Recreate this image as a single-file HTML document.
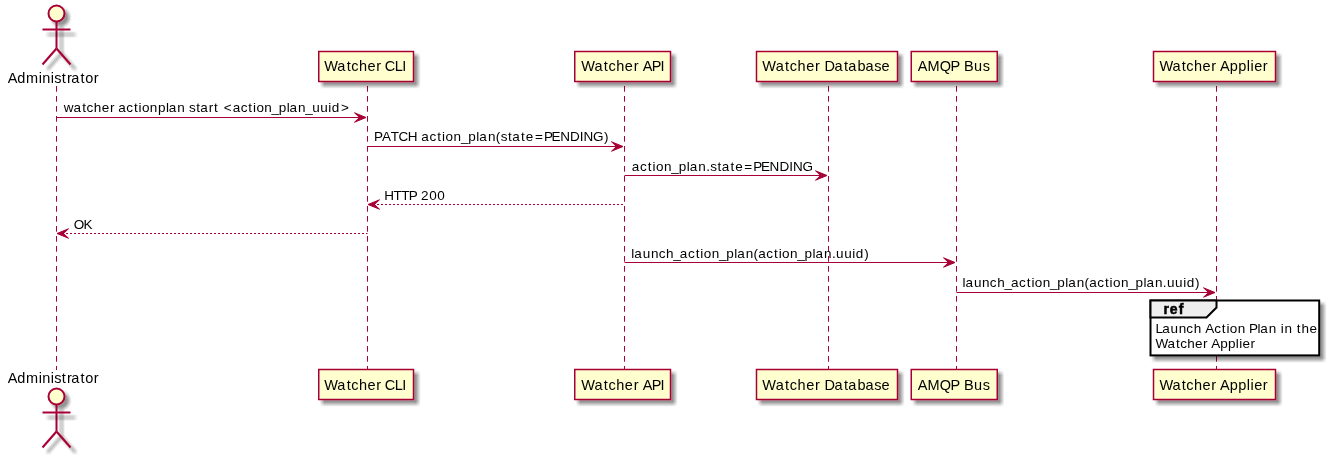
<!DOCTYPE html>
<html><head><meta charset="utf-8">
<style>
html,body{margin:0;padding:0;background:#fff;}
body{width:1330px;height:456px;overflow:hidden;}
svg{display:block;will-change:transform;}
text{font-family:"Liberation Sans",sans-serif;fill:#000;}
.pt{font-size:14.5px;}
.mt{font-size:13.5px;}
.ll{stroke:#A80036;stroke-width:1;stroke-dasharray:5.7,4.3;fill:none;}
.box{fill:#FEFECE;stroke:#A80036;stroke-width:1.5;}
.ms{stroke:#A80036;stroke-width:1;fill:none;}
.md{stroke:#A80036;stroke-width:1;fill:none;stroke-dasharray:2,2;}
.ah{fill:#A80036;stroke:#A80036;stroke-width:1;stroke-linejoin:miter;}
</style></head>
<body>
<svg width="1330" height="456" viewBox="0 0 1330 456">
<defs>
<filter id="f" filterUnits="userSpaceOnUse" x="0" y="0" width="1330" height="456">
<feConvolveMatrix in="SourceAlpha" order="5" kernelMatrix="1 1 1 1 1 1 1 1 1 1 1 1 1 1 1 1 1 1 1 1 1 1 1 1 1" divisor="25" edgeMode="none"/>
<feColorMatrix type="matrix" values="0 0 0 0 0  0 0 0 0 0  0 0 0 0 0  0 0 0 0.42 0"/>
<feOffset dx="4" dy="4" result="s"/>
<feBlend in="SourceGraphic" in2="s" mode="normal"/>
</filter>
<filter id="fl" filterUnits="userSpaceOnUse" x="0" y="0" width="1330" height="456">
<feConvolveMatrix in="SourceAlpha" order="5" kernelMatrix="1 1 1 1 1 1 1 1 1 1 1 1 1 1 1 1 1 1 1 1 1 1 1 1 1" divisor="25" edgeMode="none"/>
<feColorMatrix type="matrix" values="0 0 0 0 0  0 0 0 0 0  0 0 0 0 0  0 0 0 0.45 0"/>
<feOffset dx="5" dy="5" result="s"/>
<feBlend in="SourceGraphic" in2="s" mode="normal"/>
</filter>
</defs>
<rect width="1330" height="456" fill="#fff"/>

<line class="ll" x1="56.5" y1="86" x2="56.5" y2="370"/>
<line class="ll" x1="367.5" y1="86" x2="367.5" y2="370"/>
<line class="ll" x1="624.5" y1="86" x2="624.5" y2="370"/>
<line class="ll" x1="828.5" y1="86" x2="828.5" y2="370"/>
<line class="ll" x1="956.5" y1="86" x2="956.5" y2="370"/>
<line class="ll" x1="1216.5" y1="86" x2="1216.5" y2="370"/>
<g stroke="#A80036" stroke-width="2" fill="none">
<circle filter="url(#f)" cx="56.5" cy="13.5" r="8" fill="#FEFECE"/>
<path filter="url(#fl)" d="M56.5,21.5 L56.5,48.5"/>
<path filter="url(#fl)" d="M42.5,29.5 L70.5,29.5"/>
<path filter="url(#fl)" d="M56.5,48.5 L42.5,64.5"/>
<path filter="url(#fl)" d="M56.5,48.5 L70.5,64.5"/>
</g>
<text class="pt" x="7.79 17.27 26.03 38.73 42.37 50.82 54.19 61.72 66.92 71.34 80.49 85.17 93.8" y="83">Administrator</text>
<text class="pt" x="7.79 17.27 26.03 38.73 42.37 50.82 54.19 61.72 66.92 71.34 80.49 85.17 93.8" y="383">Administrator</text>
<g stroke="#A80036" stroke-width="2" fill="none">
<circle filter="url(#f)" cx="56.5" cy="396.5" r="8" fill="#FEFECE"/>
<path filter="url(#fl)" d="M56.5,404.5 L56.5,431.5"/>
<path filter="url(#fl)" d="M42.5,412.5 L70.5,412.5"/>
<path filter="url(#fl)" d="M56.5,431.5 L42.5,447.5"/>
<path filter="url(#fl)" d="M56.5,431.5 L70.5,447.5"/>
</g>
<rect class="box" filter="url(#f)" x="318.75" y="51.5" width="94.75" height="30"/>
<text class="pt" x="324.27 337.37 346.64 351.25 359.0 367.44 376.2 379.2 384.81 394.83 402.32" y="71">Watcher CLI</text>
<rect class="box" filter="url(#f)" x="318.75" y="369.5" width="94.75" height="30"/>
<text class="pt" x="324.27 337.37 346.64 351.25 359.0 367.44 376.2 379.2 384.81 394.83 402.32" y="390">Watcher CLI</text>
<rect class="box" filter="url(#f)" x="574.75" y="51.5" width="95.75" height="30"/>
<text class="pt" x="581.32 594.51 603.84 608.5 616.31 624.83 633.65 636.65 642.74 651.71 660.42" y="71">Watcher API</text>
<rect class="box" filter="url(#f)" x="574.75" y="369.5" width="95.75" height="30"/>
<text class="pt" x="581.32 594.51 603.84 608.5 616.31 624.83 633.65 636.65 642.74 651.71 660.42" y="390">Watcher API</text>
<rect class="box" filter="url(#f)" x="756.5" y="51.5" width="141.0" height="30"/>
<text class="pt" x="762.37 775.63 785.02 789.73 797.6 806.17 815.05 818.05 824.43 834.57 843.95 848.33 857.48 865.42 874.21 881.51" y="71">Watcher Database</text>
<rect class="box" filter="url(#f)" x="756.5" y="369.5" width="141.0" height="30"/>
<text class="pt" x="762.37 775.63 785.02 789.73 797.6 806.17 815.05 818.05 824.43 834.57 843.95 848.33 857.48 865.42 874.21 881.51" y="390">Watcher Database</text>
<rect class="box" filter="url(#f)" x="911.25" y="51.5" width="86.0" height="30"/>
<text class="pt" x="917.8 927.56 939.65 950.54 953.54 963.91 974.06 982.77" y="71">AMQP Bus</text>
<rect class="box" filter="url(#f)" x="911.25" y="369.5" width="86.0" height="30"/>
<text class="pt" x="917.8 927.56 939.65 950.54 953.54 963.91 974.06 982.77" y="390">AMQP Bus</text>
<rect class="box" filter="url(#f)" x="1153.5" y="51.5" width="122.0" height="30"/>
<text class="pt" x="1159.44 1172.49 1181.73 1186.32 1194.02 1202.42 1211.15 1214.15 1220.1 1229.83 1238.35 1246.82 1250.56 1254.15 1262.87" y="71">Watcher Applier</text>
<rect class="box" filter="url(#f)" x="1153.5" y="369.5" width="122.0" height="30"/>
<text class="pt" x="1159.44 1172.49 1181.73 1186.32 1194.02 1202.42 1211.15 1214.15 1220.1 1229.83 1238.35 1246.82 1250.56 1254.15 1262.87" y="390">Watcher Applier</text>
<line class="ms" x1="56.5" y1="117.5" x2="365.0" y2="117.5"/>
<polygon class="ah" points="354.5,112.8 366.0,117.5 354.5,122.2 359.5,117.5"/>
<text class="mt" x="63.86 73.56 82.25 86.6 93.87 101.79 110.01 113.01 118.29 126.35 133.93 138.59 141.96 149.87 157.95 165.9 168.8 177.2 180.2 188.98 196.13 200.17 208.87 214.06 217.06 223.83 232.72 240.79 248.37 253.02 256.4 264.31 271.48 278.71 286.67 289.57 297.97 305.14 312.27 320.29 328.35 331.79 340.99" y="112">watcher actionplan start &lt;action_plan_uuid&gt;</text>
<line class="ms" x1="367.5" y1="146.5" x2="622.0" y2="146.5"/>
<polygon class="ah" points="611.5,141.8 623.0,146.5 611.5,151.2 616.5,146.5"/>
<text class="mt" x="373.94 382.03 390.77 398.39 407.82 410.82 421.37 429.59 437.29 442.03 445.51 453.57 460.89 468.27 476.33 479.34 487.9 495.65 500.83 508.1 512.26 521.07 525.75 534.92 543.88 551.59 560.16 569.98 579.84 583.56 593.02 603.88" y="141">PATCH action_plan(state=PENDING)</text>
<line class="ms" x1="624.5" y1="175.5" x2="826.0" y2="175.5"/>
<polygon class="ah" points="815.5,170.8 827.0,175.5 815.5,180.2 820.5,175.5"/>
<text class="mt" x="631.84 640.05 647.74 652.48 655.96 664.01 671.32 678.7 686.75 689.76 698.31 706.29 710.3 717.56 721.71 730.52 735.2 744.36 753.31 761.01 769.58 779.39 789.24 792.96 802.41" y="171">action_plan.state=PENDING</text>
<line class="md" x1="369.0" y1="204.5" x2="624.5" y2="204.5"/>
<polygon class="ah" points="379.5,199.8 368.0,204.5 379.5,209.2 374.5,204.5"/>
<text class="mt" x="384.23 393.6 401.31 408.81 411.81 421.02 429.23 437.26" y="200">HTTP 200</text>
<line class="md" x1="58.0" y1="233.5" x2="367.5" y2="233.5"/>
<polygon class="ah" points="68.5,228.8 57.0,233.5 68.5,238.2 63.5,233.5"/>
<text class="mt" x="73.65 83.41" y="229">OK</text>
<line class="ms" x1="624.5" y1="262.5" x2="954.0" y2="262.5"/>
<polygon class="ah" points="943.5,257.8 955.0,262.5 943.5,267.2 948.5,262.5"/>
<text class="mt" x="631.37 634.32 642.74 650.9 658.66 666.0 673.26 679.86 688.0 695.64 700.33 703.76 711.74 718.98 726.29 734.29 737.25 745.72 753.4 758.16 766.3 773.93 778.63 782.06 790.04 797.28 804.58 812.59 815.54 824.02 831.94 836.12 844.22 852.33 855.83 864.3" y="258">launch_action_plan(action_plan.uuid)</text>
<line class="ms" x1="956.5" y1="292.5" x2="1214.0" y2="292.5"/>
<polygon class="ah" points="1203.5,287.8 1215.0,292.5 1203.5,297.2 1208.5,292.5"/>
<text class="mt" x="962.57 965.51 973.92 982.06 989.81 997.14 1004.39 1010.98 1019.1 1026.73 1031.42 1034.83 1042.8 1050.03 1057.32 1065.32 1068.26 1076.72 1084.39 1089.14 1097.26 1104.89 1109.58 1112.99 1120.96 1128.19 1135.48 1143.48 1146.42 1154.89 1162.8 1166.97 1175.05 1183.16 1186.64 1195.1" y="287">launch_action_plan(action_plan.uuid)</text>
<rect x="1150.5" y="300.5" width="168.7" height="54.9" fill="#fff" stroke="#000" stroke-width="2" filter="url(#f)"/>
<path d="M1150.5,300.5 L1216.5,300.5 L1216.5,307.5 L1206.5,317.5 L1150.5,317.5 Z" fill="#EEEEEE" stroke="#000" stroke-width="2"/>

<text class="mt" x="1163.39 1169.66 1178.65" y="314" font-weight="bold" style="font-size:14px" stroke="#000" stroke-width="0.5">ref</text>
<text class="mt" x="1155.5 1162.18 1170.55 1178.66 1186.37 1193.67 1196.67 1205.32 1214.13 1221.73 1226.4 1229.79 1237.73 1240.73 1249.05 1257.44 1260.36 1268.78 1271.78 1280.84 1284.4 1287.4 1296.76 1301.44 1309.39" y="333">Launch Action Plan in the</text>
<text class="mt" x="1155.55 1167.55 1176.05 1180.23 1187.3 1195.0 1203.02 1206.02 1211.19 1220.13 1227.94 1235.74 1239.17 1242.43 1250.44" y="348">Watcher Applier</text>
</svg>
</body></html>
